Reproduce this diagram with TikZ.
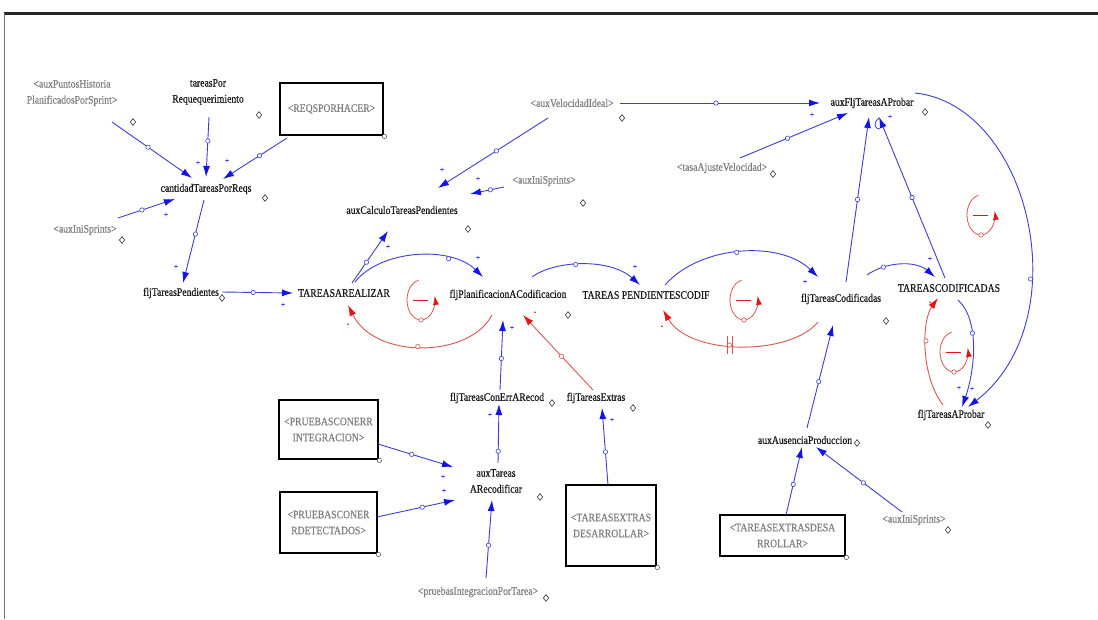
\documentclass[tikz,border=0pt]{standalone}
\usepackage{fontspec}
\setmainfont{Liberation Serif}
\newfontfamily\varfont{Liberation Serif}[FakeBold=0.6, FakeStretch=0.85]
\usetikzlibrary{arrows.meta,decorations.markings,shapes.geometric,calc}

\definecolor{lnkblue}{RGB}{62,62,212}
\definecolor{tipblue}{RGB}{18,18,235}
\definecolor{lnkred}{RGB}{214,86,86}
\definecolor{tipred}{RGB}{232,20,20}
\definecolor{shadowgray}{RGB}{128,128,128}
\definecolor{vartext}{RGB}{25,25,25}

\tikzset{
  var/.style={inner sep=1pt, text=vartext, font=\varfont\fontsize{11.4}{16}\selectfont, align=center},
  shadowvar/.style={var, text=shadowgray},
  levelbox/.style={draw=black, line width=2.8pt, text=shadowgray, inner sep=0pt,
    font=\varfont\fontsize{11.4}{16}\selectfont, align=center},
  blink/.style={draw=lnkblue, line width=0.9pt, -{Latex[length=11pt,width=7pt,color=tipblue]}},
  rlink/.style={draw=lnkred, line width=0.9pt, -{Latex[length=11pt,width=7pt,color=tipred]}},
  hndb/.style={postaction={decorate, decoration={markings, mark=at position #1 with
    {\draw[lnkblue, line width=0.6pt, fill=white] (0,0) circle (2.2pt);}}}},
  hndr/.style={postaction={decorate, decoration={markings, mark=at position #1 with
    {\draw[lnkred, line width=0.6pt, fill=white] (0,0) circle (2.2pt);}}}},
  diam/.style={draw=black!80, shape=diamond, inner sep=0pt, minimum width=5.5pt,
    minimum height=7pt, line width=0.6pt},
  sgnb/.style={font=\varfont\fontsize{8}{8}\selectfont, inner sep=0pt, text=tipblue},
  sgnr/.style={font=\varfont\fontsize{8}{8}\selectfont, inner sep=0pt, text=tipred},
  loopsym/.pic={
    \draw[lnkred, line width=0.8pt, -{Latex[length=9pt,width=6pt,color=tipred]}]
      (100:14pt and 20pt) arc[start angle=100, end angle=372, x radius=14pt, y radius=20pt];
    \draw[tipred, line width=0.9pt] (-8pt,0pt) -- (7pt,0pt);
    \draw[lnkred, line width=0.6pt, fill=white] (0pt,-20pt) circle (2.2pt);
  }
}

\begin{document}
\begin{tikzpicture}[x=1pt, y=-1pt]
\useasboundingbox (0,0) rectangle (1098,619);
\fill[white] (0,0) rectangle (1098,619);

% window frame
\draw[line width=3pt, black!85] (4,13) -- (1098,13);
\draw[line width=1pt, black!55] (4,13) -- (4,619);

% ---------- variables ----------
\node[shadowvar] (auxPuntos) at (72,93) {<auxPuntosHistoria\\PlanificadosPorSprint>};
\node[var] (tareasPor) at (208,92) {tareasPor\\Requequerimiento};
\node[levelbox, minimum width=103pt, minimum height=52pt] (reqBox) at (331.5,109) {<REQSPORHACER>};
\node[var] (cantidad) at (206,189) {cantidadTareasPorReqs};
\node[shadowvar] (auxIniA) at (85,230) {<auxIniSprints>};
\node[var] (fljTP) at (181,293) {fljTareasPendientes};
\node[var] (TAR) at (344,293) {TAREASAREALIZAR};
\node[var] (auxCalc) at (402,210) {auxCalculoTareasPendientes};
\node[shadowvar] (auxVel) at (572,103) {<auxVelocidadIdeal>};
\node[shadowvar] (auxIniB) at (544,181) {<auxIniSprints>};
\node[var] (fljPlan) at (508,295) {fljPlanificacionACodificacion};
\node[var] (TP) at (646,295) {TAREAS PENDIENTESCODIF};
\node[var] (fljTC) at (841,299) {fljTareasCodificadas};
\node[var] (TC) at (949,288) {TAREASCODIFICADAS};
\node[var] (auxFlj) at (872,103) {auxFljTareasAProbar};
\node[shadowvar] (tasa) at (722,168) {<tasaAjusteVelocidad>};
\node[var] (fljTAP) at (951,415) {fljTareasAProbar};
\node[var] (fljTCE) at (497,398) {fljTareasConErrARecod};
\node[var] (fljTE) at (596,398) {fljTareasExtras};
\node[var] (auxTareas) at (496,481) {auxTareas\\ARecodificar};
\node[levelbox, minimum width=99pt, minimum height=59pt] (integBox) at (328.5,429.5) {<PRUEBASCONERR\\INTEGRACION>};
\node[levelbox, minimum width=97pt, minimum height=61pt] (detectBox) at (328.5,522.5) {<PRUEBASCONER\\RDETECTADOS>};
\node[levelbox, minimum width=90pt, minimum height=81pt] (texBox) at (611,525.5) {<TAREASEXTRAS\\DESARROLLAR>};
\node[levelbox, minimum width=125pt, minimum height=41pt] (texdBox) at (782.5,535.5) {<TAREASEXTRASDESA\\RROLLAR>};
\node[shadowvar] (pruebasInt) at (478,592) {<pruebasIntegracionPorTarea>};
\node[var] (auxAus) at (805,440) {auxAusenciaProduccion};
\node[shadowvar] (auxIniC) at (914,520) {<auxIniSprints>};

% corner handles of the boxes
\foreach \b in {reqBox,integBox,detectBox,texBox,texdBox}
  \draw[black!70, line width=0.5pt, fill=white] (\b.south east) circle (2.2pt);

% ---------- connectors ----------
\draw[blink, hndb=0.45] ($(auxPuntos)+(40,29)$) -- ($(cantidad)+(-14,-11)$);
\draw[blink, hndb=0.4] ($(tareasPor)+(1,25)$) -- ($(cantidad)+(0,-12)$);
\draw[blink, hndb=0.43] ($(reqBox)+(-44.5,29)$) -- ($(cantidad)+(17,-10)$);
\draw[blink, hndb=0.42] ($(auxIniA)+(33,-12)$) -- ($(cantidad)+(-31,10)$);
\draw[blink, hndb=0.41] ($(cantidad)+(-2,11)$) -- ($(fljTP)+(2,-10)$);
\draw[blink, hndb=0.44] ($(fljTP)+(41,-1)$) -- ($(TAR)+(-51,0)$);
\draw[blink, hndb=0.4] ($(TAR)+(8,-10)$) -- ($(auxCalc)+(-14,21)$);
\draw[blink, hndb=0.47] ($(auxVel)+(-24,15)$) -- ($(auxCalc)+(36,-22)$);
\draw[blink, hndb=0.4] ($(auxIniB)+(-40,6)$) -- ($(auxCalc)+(68,-16)$);

\draw[blink, hndb=0.72] ($(TAR)+(11,-11)$) .. controls (380,250) and (450,245) .. ($(fljPlan)+(-25,-18)$);
\draw[rlink, hndr=0.5] ($(fljPlan)+(-16,20)$) .. controls (470,358) and (375,360) .. ($(TAR)+(4,12)$);
\draw[blink, hndb=0.4] ($(fljPlan)+(24,-18)$) .. controls (555,260) and (610,258) .. ($(TP)+(-6,-10)$);
\draw[blink, hndb=0.48] ($(TP)+(19,-10)$) .. controls (700,245) and (780,240) .. ($(fljTC)+(-23,-22)$);
\draw[rlink, hndr=0.55] ($(fljTC)+(-23,23)$) .. controls (790,356) and (690,356) .. ($(TP)+(17,15)$);
% delay mark
\draw[lnkred, line width=0.9pt] (727,336) -- (727,354) (732.5,336) -- (732.5,354);

\draw[blink, hndb=0.5] ($(fljTC)+(5,-17)$) -- ($(auxFlj)+(-3,14)$);
\draw[blink, hndb=0.5] ($(TC)+(-4,-10)$) -- ($(auxFlj)+(7,14)$);
\draw[blink, hndb=0.48] ($(auxVel)+(48,0)$) -- ($(auxFlj)+(-52,0)$);
\draw[blink, hndb=0.44] ($(tasa)+(18,-10)$) -- ($(auxFlj)+(-24,10)$);
\draw[blink, hndb=0.62] ($(auxFlj)+(43,-10)$) .. controls (1030,105) and (1080,320) .. ($(fljTAP)+(17,-8)$);
\draw[lnkblue, line width=0.8pt] (879,118) .. controls (873,123) and (874,129) .. (880,129);

\draw[blink, hndb=0.25] ($(fljTC)+(26,-24)$) .. controls (885,262) and (915,260) .. ($(TC)+(-14,-11)$);
\draw[blink, hndb=0.33] ($(TC)+(9,12)$) .. controls (980,320) and (975,370) .. ($(fljTAP)+(11,-8)$);
\draw[rlink, hndr=0.6] ($(fljTAP)+(-8,-10)$) .. controls (920,375) and (922,320) .. ($(TC)+(-11,10)$);

\draw[blink, hndb=0.45] ($(fljTCE)+(3,-8)$) -- ($(fljPlan)+(-5,25)$);
\draw[rlink, hndr=0.45] ($(fljTE)+(-3,-8)$) -- ($(fljPlan)+(15,20)$);
\draw[blink, hndb=0.2] ($(auxTareas)+(2,-18)$) -- ($(fljTCE)+(2,6)$);
\draw[blink, hndb=0.43] ($(texBox)+(-3,-40.5)$) -- ($(fljTE)+(6,10)$);
\draw[blink, hndb=0.45] ($(integBox)+(49.5,14.5)$) -- ($(auxTareas)+(-43,-14)$);
\draw[blink, hndb=0.58] ($(detectBox)+(48.5,-5.5)$) -- ($(auxTareas)+(-41,19)$);
\draw[blink, hndb=0.42] ($(pruebasInt)+(8,-14)$) -- ($(auxTareas)+(-4,19)$);
\draw[blink, hndb=0.45] ($(auxAus)+(2,-12)$) -- ($(fljTC)+(-8,26)$);
\draw[blink, hndb=0.45] ($(texdBox)+(3.5,-20.5)$) -- ($(auxAus)+(-3,7)$);
\draw[blink, hndb=0.45] ($(auxIniC)+(-12,-8)$) -- ($(auxAus)+(11,7)$);

% ---------- loop markers ----------
\pic at (421,300) {loopsym};
\pic at (744,300) {loopsym};
\pic at (981,215) {loopsym};
\pic at (954,352) {loopsym};

% ---------- polarity signs ----------
\node[sgnb] (p1) at (198,163) {+};
\node[sgnb] (p2) at (227,161) {+};
\node[sgnb] (p3) at (166,215) {+};
\node[sgnb] (p4) at (176,267) {+};
\node[sgnb] (p5) at (283,305) {+};
\node[sgnb] (p6) at (388,247) {+};
\node[sgnb] (p7) at (442,170) {+};
\node[sgnb] (p8) at (478,179) {+};
\node[sgnb] (p9) at (478,258) {+};
\node[sgnr] (p10) at (348,325) {-};
\node[sgnb] (p11) at (635,267) {+};
\node[sgnb] (p12) at (805,282) {+};
\node[sgnr] (p13) at (662,327) {-};
\node[sgnb] (p14) at (512,328) {+};
\node[sgnr] (p15) at (535,313) {-};
\node[sgnb] (p16) at (490,415) {+};
\node[sgnb] (p17) at (612,420) {+};
\node[sgnb] (p18) at (443,477) {+};
\node[sgnb] (p19) at (444,491) {+};
\node[sgnb] (p20) at (812,115) {+};
\node[sgnb] (p21) at (890,117) {+};
\node[sgnb] (p22) at (930,259) {+};
\node[sgnb] (p23) at (959,388) {+};
\node[sgnb] (p24) at (972,389) {+};
\node[sgnr] (p25) at (930,303) {-};

% ---------- variable handles ----------
\node[diam] (d1) at (133,122) {};
\node[diam] (d2) at (259,115) {};
\node[diam] (d3) at (265,198) {};
\node[diam] (d4) at (122,240) {};
\node[diam] (d5) at (222,298) {};
\node[diam] (d6) at (468,229) {};
\node[diam] (d7) at (622,118) {};
\node[diam] (d8) at (583,203) {};
\node[diam] (d9) at (568,315) {};
\node[diam] (d10) at (886,321) {};
\node[diam] (d11) at (925,112) {};
\node[diam] (d12) at (773,174) {};
\node[diam] (d13) at (988,425) {};
\node[diam] (d14) at (552,403) {};
\node[diam] (d15) at (633,408) {};
\node[diam] (d16) at (540,497) {};
\node[diam] (d17) at (857,443) {};
\node[diam] (d18) at (948,530) {};
\node[diam] (d19) at (546,598) {};
\end{tikzpicture}
\end{document}
